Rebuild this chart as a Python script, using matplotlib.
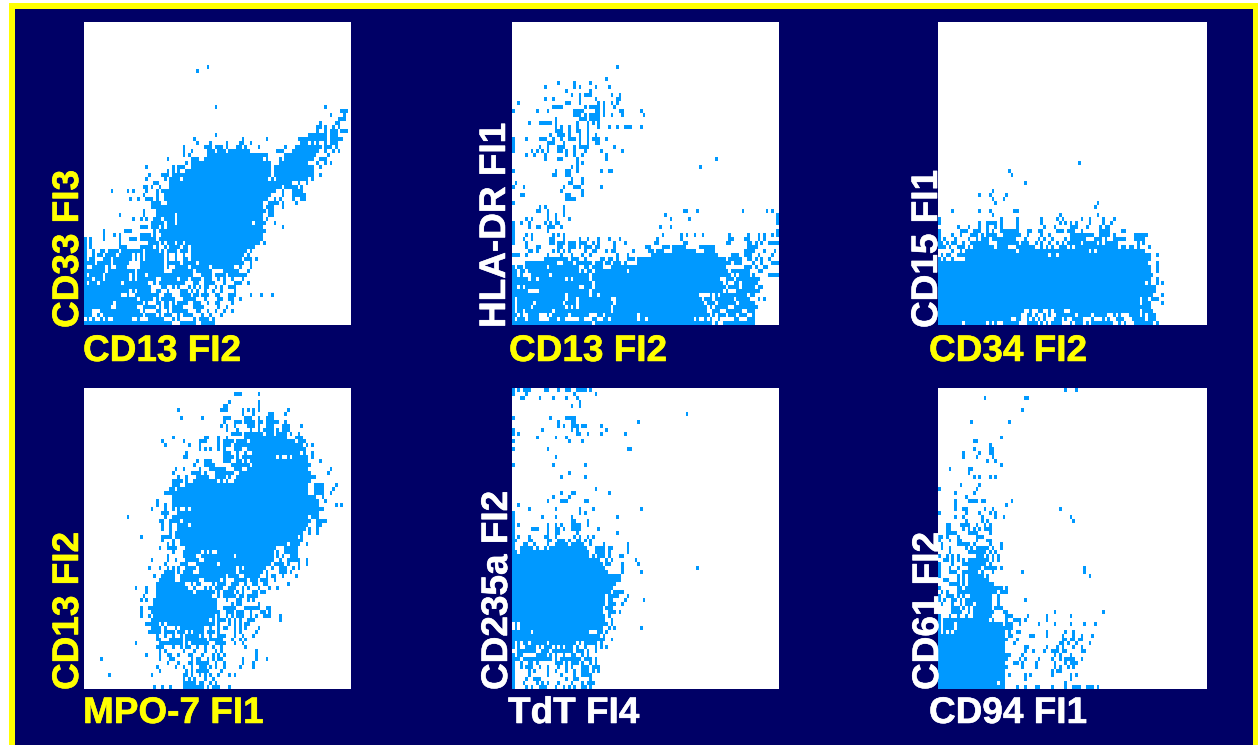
import numpy as np
import matplotlib
matplotlib.use('Agg')
import matplotlib.pyplot as plt
import matplotlib.patheffects as pe
from matplotlib.colors import ListedColormap
from matplotlib.patches import Rectangle

plt.rcParams['font.family'] = ['Liberation Sans', 'DejaVu Sans']

W, H = 1258, 745
N_COLS, N_ROWS = 100, 76

NAVY = '#000066'
YELLOW = '#FFFF00'
BLUE = '#0099FF'

# occupied channels: row -> cells (int) or runs (tuple)
p1_rows = {
    64: [46], 63: [42],
    54: [49, 90], 53: [(96, 98)], 52: [92, 97], 51: [(95, 97)],
    50: [88, (94, 95)], 49: [(87, 88), 90, 93, 95], 48: [87, 90, (92, 94), (96, 98)],
    47: [49, (84, 90), (92, 94)],
    46: [41, 59, 68, (80, 83), (84, 90), (92, 96)],
    45: [42, 47, 53, (58, 59), 62, (81, 83), 85, 87, 90, (92, 94)],
    44: [37, (45, 47), (49, 51), 53, (57, 58), 60, 65, 75, (79, 88), (90, 92), 94],
    43: [37, 40, (46, 48), (50, 52), 54, (55, 57), (58, 61), (72, 74), (78, 87), 90, 93, 95],
    42: [37, 39, (46, 64), (65, 68), (75, 86), 91],
    41: [31, (40, 42), (45, 65), 66, 68, 73, (75, 85), (88, 90)],
    40: [38, (40, 69), (73, 83), 87, 90, 92],
    39: [23, 33, (35, 37), (40, 69), (71, 85), 88],
    38: [31, 33, 35, (38, 69), (71, 74), (75, 85)],
    37: [24, (29, 31), (33, 35), (36, 69), (71, 75), (76, 85), 88],
    36: [23, 30, (32, 35), (37, 68), 70, (72, 83), 85],
    35: [(26, 27), (32, 35), (36, 70), (71, 77), 80, 83],
    34: [(22, 23), 25, 28, (32, 35), (35, 73), (75, 79), 81],
    33: [10, 16, 18, 23, 27, (29, 30), (31, 71), 74, (78, 81)],
    32: [22, 27, (30, 69), 74, (78, 82)],
    31: [17, 20, (23, 25), 27, (30, 68), 71, 73, 78, (81, 82)],
    30: [(25, 28), (31, 35), (36, 66), (69, 71), 72, 74, 79],
    29: [(25, 29), (30, 33), (34, 66), (68, 70), 74],
    28: [22, (27, 29), (30, 33), (34, 67), (69, 70)],
    27: [13, 22, (27, 29), (30, 33), (35, 66), (69, 70)],
    26: [18, 21, 23, (26, 28), (30, 33), (35, 66), 68],
    25: [(25, 28), 29, (31, 33), (35, 62), (64, 67), 71],
    24: [(21, 23), (25, 27), 29, (31, 34), (35, 66), 74],
    23: [7, (15, 17), 26, (28, 30), (31, 34), (35, 66), 67],
    22: [7, 11, 13, (21, 24), 26, (29, 66)],
    21: [0, 2, 7, 13, (17, 19), (21, 26), (28, 64), (65, 66)],
    20: [0, 2, 13, (24, 27), 29, (31, 33), (35, 36), (38, 65), 67],
    19: [0, 2, (13, 15), (21, 25), 27, 30, (32, 35), (37, 38), (40, 63)],
    18: [0, 3, (6, 7), (9, 12), (14, 21), (23, 27), 29, (31, 34), (36, 38), (40, 60), 62],
    17: [0, 3, (5, 6), (8, 11), (13, 17), 19, 21, (23, 29), 31, 34, 37, (40, 59), 61],
    16: [0, (2, 3), (7, 9), (11, 17), 19, 21, (23, 29), 31, 34, (37, 38), (40, 58), (60, 62), 64],
    15: [(0, 3), (5, 8), 9, (11, 16), (21, 29), (31, 35), (37, 41), (43, 59), 62],
    14: [0, (3, 7), 9, (12, 15), (21, 29), 31, (34, 38), (40, 46), (48, 55), 58, 62],
    13: [(0, 7), (9, 18), (20, 29), (33, 40), (42, 47), (52, 57), 61],
    12: [0, (2, 6), (8, 16), 18, (20, 22), (24, 40), (44, 47), (49, 52), (54, 58), (59, 60)],
    11: [(0, 2), (4, 6), (8, 16), 18, (20, 26), (29, 34), (36, 38), (40, 43), (45, 47), 50, 52, 55, 59],
    10: [0, (2, 4), (6, 13), (15, 23), 26, (28, 34), (35, 37), (41, 42), (45, 48), 52, (56, 58), 61],
    9: [(0, 24), (29, 30), 33, 35, 39, 41, 43, (45, 46), 49, 51, (54, 56)],
    8: [(0, 16), 18, (20, 24), (27, 28), 31, (36, 38), 40, 42, 45, 48, 51, 56],
    7: [(0, 13), 16, (19, 27), (30, 32), (36, 39), (41, 42), (44, 46), (49, 50), (54, 56), 62, 66, 70],
    6: [(0, 19), (21, 25), 27, (29, 33), (37, 41), 45, (50, 51), (54, 55), 58],
    5: [(0, 10), (12, 21), 23, (27, 28), (30, 31), 33, (35, 38), (41, 43), 46, 49, 50, 55],
    4: [(0, 9), (12, 19), (22, 26), 28, (30, 31), 33, (34, 36), (41, 44), 50, 53],
    3: [(0, 2), (6, 20), 22, (27, 28), 31, (33, 38), (42, 43), 46, 49, 52, 55],
    2: [(0, 2), 5, (7, 21), (23, 26), 28, (30, 32), 35, (37, 40), 44, 47, 51],
    1: [1, 3, 6, 8, (11, 17), 20, (24, 29), 33, 35, 41, 43, (44, 46), 48],
    0: [(0, 32), (36, 40), 41, (44, 48)],
}

p2_rows = {
    64: [39], 61: [35], 60: [17, 23, 29], 59: [12, 23, 25, 31, 36], 58: [20, 29],
    57: [22, 25, (27, 29), 37, 40], 56: [12, 15, 25, 31, (39, 40)],
    55: [2, (20, 21), 25, 32, 34, 37, 39], 54: [(15, 18), 27, (29, 31), 32, 34, 38],
    53: [0, 9, 13, (23, 26), 31, 32, 34, (40, 41), 48], 52: [(23, 25), 27, (29, 32), 34, 37, 41, 49],
    51: [16, (25, 27), (29, 32)], 50: [6, (10, 14), 16, 24, 28, 30, 32],
    49: [16, 18, 21, 24, 28, 32, 36, 39, (42, 44), 48], 48: [16, (17, 18), 21, (24, 25), 28],
    47: [14, (17, 19), 21, 25, 28, 31],
    46: [0, 5, (10, 12), 15, 18, (21, 23), 25, 28, (30, 32), 35],
    45: [0, 13, (14, 15), 19, 25, 28, (31, 32)],
    44: [0, 10, 13, (17, 19), 23, 25, (26, 28), 38],
    43: [0, 7, 9, 11, 13, (17, 18), 20, 23, 27, 33, 41],
    42: [5, 8, 12, 20, 23, 26, 35],
    41: [12, (17, 18), 24, 35, 76], 40: [24, 26],
    39: [22, 24, 70], 38: [0, 16, (20, 21), 24, 33, 36, 37],
    37: [15, 16, 20, 21], 36: [22, 26], 35: [1, (21, 22), 26],
    34: [0, 4, 19, (23, 25), 33], 33: [18, 26], 32: [(3, 4), (20, 21), 26],
    31: [(20, 22), 23], 30: [0],
    29: [10, 12, 19], 28: [(9, 10), 13, 19, 64, 65, 69, 86, 95, 97],
    27: [13, 16, 19, 57, 99], 26: [5, 7, 13, 16, 21, 59, 66, 99],
    25: [0, 3, 6, 12, 14, (16, 17), 99],
    24: [0, 6, (9, 10), 13, (14, 15), 18, 55, 59],
    23: [0, 13, 99],
    22: [0, 5, 7, 15, 17, 19, 56, 63, 65, 68, 71, 81, 88, 92, 94, 97, 99],
    21: [0, 4, 7, (14, 15), 19, 25, 28, 32, 36, 40, 54, 63, (81, 82), (87, 88), 92, 94],
    20: [0, 5, (14, 15), (17, 19), (21, 23), (25, 27), 30, 32, 38, 42, (53, 54), (64, 65), (80, 81), (88, 89), 91, 93, (96, 99)],
    19: [5, (9, 10), (17, 18), (21, 23), 25, (27, 29), (31, 32), 38, (50, 51), (56, 58), (60, 64), (70, 75), (88, 91)],
    18: [(6, 7), 9, 15, 17, 19, 21, 27, (30, 31), 35, (37, 38), 45, (51, 52), (54, 56), (60, 68), (72, 75), (87, 90), 94, 98],
    17: [(0, 2), 5, 13, 18, 22, 26, 29, 39, 43, (52, 76), (82, 84), (87, 89), 92, 97],
    16: [(12, 20), (22, 24), 27, (33, 34), (36, 37), 39, (43, 45), (47, 79), (81, 85), (88, 89), 91, 93, 96],
    15: [(5, 16), (19, 22), (24, 29), (31, 33), (35, 36), (38, 40), 42, (47, 81), (83, 85), 90, 93, (97, 99)],
    14: [0, (2, 3), (5, 12), (14, 24), (27, 28), (30, 33), (37, 79), (87, 89), 91, (94, 95)],
    13: [0, 1, 3, 4, (6, 24), 26, 28, 29, (31, 42), (44, 80), (82, 88), 92, 93],
    12: [(0, 1), 3, (7, 13), (15, 28), (30, 81), 83, (85, 88), 90, (96, 99)],
    11: [(0, 5), (7, 8), (10, 19), 21, (23, 28), (30, 77), (80, 82), (84, 92)],
    10: [(0, 29), (31, 78), 80, (83, 84), (86, 91)],
    9: [0, 1, 3, (5, 24), (27, 29), (31, 79), (81, 84), (86, 90), (92, 93)],
    8: [(0, 5), (10, 28), (30, 78), 80, (84, 92)],
    7: [(0, 19), (21, 28), 30, 31, (33, 69), 74, 76, (78, 87), (89, 90)],
    6: [0, (2, 19), (21, 23), (25, 36), (39, 70), (72, 74), (76, 82), (84, 88), 92, 94],
    5: [0, (2, 7), (9, 18), (20, 23), (25, 37), (39, 71), (73, 75), (77, 83), (85, 90)],
    4: [0, (2, 6), (8, 19), 21, 23, (25, 36), (38, 72), 74, (76, 80), (83, 91)],
    3: [0, (2, 3), (5, 14), (16, 36), (38, 72), (75, 77), (80, 85), (88, 90)],
    2: [(0, 1), 3, (6, 9), 13, (15, 20), (22, 28), 32, 33, (35, 46), (48, 72), 73, 75, (77, 79), (81, 83), (85, 87), 90],
    1: [0, (2, 4), (6, 9), (14, 16), 18, 19, (25, 26), (30, 31), (34, 35), (37, 46), (48, 49), (51, 67), 69, 72, 74, 77, (83, 84), (88, 90)],
    0: [(0, 29), (31, 74), 76, (79, 90)],
}

p3_rows = {
    40: [52], 38: [26], 37: [27], 35: [32],
    33: [20], 32: [15, 19, 25], 31: [20, 24], 30: [21, 59],
    29: [58], 28: [5, 15, 19, (28, 29)], 27: [20, 45, 59],
    26: [0, 23, 29, 38, 44, 46, 53, 56, 61, 65],
    25: [0, 15, (18, 21), 23, 29, 38, 45, 47, 49, 51, 56, 61, 64],
    24: [7, 11, 15, 18, 21, 23, 29, 39, 43, 49, (50, 51), 55, 60, (62, 63)],
    23: [0, (8, 9), 10, (13, 15), 18, 20, (23, 29), (33, 34), (37, 38), (44, 46), 48, (49, 50), 53, (60, 63), (68, 69)],
    22: [0, 5, 8, (12, 14), 16, (18, 21), (24, 30), 33, 38, 41, (49, 54), (55, 57), (60, 63), 65, (73, 77)],
    21: [0, 2, 6, 11, 14, (16, 18), (20, 28), 32, 37, 39, 42, 47, 49, (50, 54), (58, 60), 62, (65, 69), (73, 76)],
    20: [(0, 1), 3, (5, 6), 9, (12, 17), 18, (22, 29), (31, 33), 36, 38, 41, 44, 46, (48, 52), (54, 58), 60, (62, 66), 74, 76],
    19: [(0, 2), 4, (7, 9), 11, (13, 19), 20, (22, 25), (29, 35), 38, 40, 42, (45, 47), 49, (51, 66), (68, 69), (71, 72), 74, 78],
    18: [5, 8, (10, 28), (30, 55), 57, 59, (60, 76)],
    17: [1, (3, 4), (7, 9), (10, 37), (38, 40), (42, 43), (45, 78), 81],
    16: [0, 2, 5, (10, 74), (75, 78)],
    15: [(0, 77), 81],
    14: [(0, 78), 81],
    13: [(0, 78), 81],
    12: [(0, 77), (78, 79)],
    11: [(0, 78), 81],
    10: [(0, 76), 78, 81, 83],
    9: [(0, 80)], 8: [(0, 32), (33, 80)],
    7: [(0, 79), 83], 6: [(0, 74), (76, 77), (79, 81)],
    5: [(0, 74), (76, 78), 83], 4: [(0, 78)],
    3: [(0, 31), 34, (37, 38), 41, (43, 46), (49, 74), (76, 79)],
    2: [(0, 30), (33, 34), 36, 39, 41, (44, 50), (52, 56), (58, 62), 65, 67, (71, 74), 76, (78, 80)],
    1: [(0, 26), (29, 30), 33, 35, 37, 39, (43, 45), 47, (50, 53), 57, 61, 63, (66, 68), (72, 76), (78, 80)],
    0: [(0, 8), (10, 17), 19, 21, (24, 29), (33, 36), 38, 40, (42, 45), 49, (51, 53), 55, (57, 64), 67, 69, (73, 79), 81],
}

p4_rows = {
    74: [(56, 58), 65], 72: [54, 65], 71: [(52, 53), 65], 70: [35, (51, 53), 59, 61, 63, 65, 76],
    69: [59, 63, (69, 70), 75], 68: [36, 44, (52, 54), (60, 62), 65, (68, 70)],
    67: [52, (56, 58), (60, 63), (65, 66), (68, 72), 75], 66: [51, 53, 56, (61, 63), 65, (68, 70), (74, 76), 81],
    65: [53, 57, 62, 65, (67, 70), 72, (74, 76)], 64: [(55, 58), (60, 66), (68, 70), (72, 75), 77, 80],
    63: [33, (45, 46), 50, 53, (60, 70), (71, 75), (79, 81)],
    62: [29, 37, (43, 45), 50, (52, 55), (57, 60), (62, 67), (68, 78), (80, 82)],
    61: [30, 39, 43, 50, (52, 54), (56, 60), (61, 67), (68, 81), 83, 85],
    60: [43, 45, 47, 50, 52, (56, 58), (61, 70), (71, 81), 82],
    59: [38, (52, 54), 57, 60, (63, 65), (66, 70), (71, 76), 77, (78, 80), 82, 85],
    58: [(37, 38), (52, 55), 57, (59, 61), (62, 71), 73, 76, (78, 83), 85],
    57: [42, (45, 47), (52, 54), (57, 58), 60, (62, 70), (71, 83), 88],
    56: [41, (45, 48), (55, 61), (63, 70), (71, 84)],
    55: [34, 37, 43, (47, 52), (56, 58), (61, 83), 92],
    54: [33, (40, 43), 45, (49, 52), (53, 55), (58, 84), 91],
    53: [35, 38, (42, 46), (49, 52), 54, (57, 86)],
    52: [(33, 36), 38, (41, 49), 51, 53, (56, 84)],
    51: [(33, 35), 38, (39, 83), (86, 89), 94],
    50: [(32, 33), (35, 83), (86, 89), 93],
    49: [(30, 32), (33, 83), (86, 89), 92],
    48: [(33, 86), 89],
    47: [27, (33, 87), 90],
    46: [27, 30, (33, 87), 94, 96],
    45: [25, 30, 33, 35, 38, (40, 86), (87, 89)],
    44: [(29, 31), (35, 87)],
    43: [16, 30, (33, 35), (36, 83), (85, 87)],
    42: [(28, 29), (32, 35), (37, 84), (87, 89), 90],
    41: [29, 32, (35, 38), (40, 83), (87, 88)],
    40: [29, 32, (35, 39), (40, 82), 84, 87],
    39: [32, (34, 39), (40, 81), 84, 87],
    38: [21, (29, 31), 32, (34, 79), 81],
    37: [29, 33, (36, 81)],
    36: [31, 33, (36, 75), (77, 80), 83],
    35: [28, (31, 34), (38, 71), (75, 79)],
    34: [33, (37, 43), 45, 47, (50, 70), 72, (75, 79)],
    33: [31, (37, 41), (44, 55), (57, 70), 72, 74, (77, 79)],
    32: [25, 31, 34, (38, 42), (45, 70), 73, (76, 80), 83],
    31: [30, (36, 38), (42, 48), 49, (51, 69), (71, 74), 76, 80, 83],
    30: [24, 28, 31, 33, 35, (38, 41), (43, 56), 58, (60, 67), 70, (73, 75), 78, 80],
    29: [(30, 33), 35, (37, 40), (43, 56), (58, 66), 68, (73, 75), 77],
    28: [26, (29, 33), (36, 43), (44, 52), (54, 57), (60, 65), 68, (70, 71), 74, 79],
    27: [(28, 33), (36, 42), (45, 50), 52, 56, (57, 60), (62, 64), (66, 68), 71],
    26: [(27, 37), 40, (42, 43), 48, (50, 52), (55, 57), 60, (63, 64), (67, 68), 76],
    25: [19, 23, (27, 38), 41, 45, 47, (49, 51), (54, 56), 59, 61, 65, 69, 72],
    24: [23, (27, 40), (42, 48), 50, 52, (53, 55), 57, 59, (63, 64), (66, 67)],
    23: [22, (27, 47), 50, (52, 56), 58, 59, 61, (62, 64)],
    22: [21, 23, (26, 49), 53, (57, 58), 61, 63],
    21: [(26, 49), 55, (57, 58), 65],
    20: [21, (24, 49), (52, 56), 60, (61, 65), (68, 69)],
    19: [21, (25, 50), (53, 55), 57, (58, 59), 62, (66, 67), 69],
    18: [21, 24, (26, 48), 50, 53, 55, (57, 59), 62, 64, (67, 69), 73],
    17: [(25, 46), 48, (50, 52), 54, 56, 58, 61, (62, 63), 73],
    16: [(23, 27), 29, (31, 46), (47, 48), 50, 54, 56, 58, (60, 61)],
    15: [(25, 28), 30, 34, (36, 44), 47, 50, (52, 53), 56, 58, 60, 65],
    14: [(24, 28), (30, 33), (35, 37), 39, (41, 44), (46, 48), 50, 56, 58, 64],
    13: [27, 30, 33, 36, (38, 42), 44, 47, (50, 52), 56, 59, 63],
    12: [(27, 28), (32, 35), 36, (38, 45), (47, 51), 55, 58, 60],
    11: [19, (28, 34), (35, 36), 38, (40, 42), (43, 46), (49, 52), 56, 59],
    10: [(27, 28), 29, 33, 36, (38, 39), 42, 45, 48, 51, 60],
    9: [28, 30, 37, 41, 45, 49, 51, 64],
    8: [23, 28, (31, 32), 35, (39, 40), 44, 48, 50, 52, 64],
    7: [6, 28, (32, 33), 40, (42, 43), 46, 48, (50, 51), 59, 64, 68],
    6: [31, 35, (39, 40), (42, 46), 49, 52, 59, 63],
    5: [27, 34, 37, 40, (43, 45), 47, 49, 52, 58, 63],
    4: [28, 38, 40, 42, (43, 46), 51],
    3: [9, 25, (37, 38), 40, 43, 45, 47, 50, 54, 56],
    2: [37, 39, 41, 45, 48],
    1: [(37, 41), (43, 44), 47, 49],
    0: [26, 29, 32, (37, 41), (42, 44), 46, (48, 50), 54],
}

p5_rows = {
    75: [0, 2, (4, 6), (12, 13), 17, (20, 21), (24, 27), 29], 74: [0, 5, 23, 31], 73: [(3, 4), 10, 15, 20, 24],
    72: [25], 71: [22, 25], 69: [65],
    68: [0, 14, (20, 23)], 67: [17, (22, 23), 47], 66: [17, 19, (22, 24), (26, 27), 33],
    65: [0, 11, 22, 24, 35], 64: [0, 2, 24, 25, 28, 33, 42], 63: [9, 16, 20],
    62: [0, 21, 26], 60: [0, 13, (43, 44)], 58: [16], 56: [0, 15, 27], 54: [21], 53: [18, 27],
    50: [31], 49: [18, (22, 23), 36], 48: [15, 21], 47: [13, (18, 20), (27, 28)],
    46: [2], 45: [6, 16, 25, 30, 48], 44: [0, 25, 27], 43: [0, 11, 16, 22, 39],
    42: [0, (22, 23), 28], 41: [0, 2, 13, 16, 18, (22, 24), 25, 28],
    40: [0, (7, 9), 13, (16, 17), 19, (22, 24), 25, 32],
    39: [0, 13, (16, 17), 24, 39], 38: [0, 2, 6, (12, 13), 16, 23, 25, 28, 30],
    37: [0, 1, (6, 7), (13, 14), (17, 19), 21, (24, 25), 27, 29],
    36: [0, (4, 5), 8, 13, (16, 20), (22, 26), 29, 34, 43],
    35: [0, 3, (4, 7), 9, 12, (14, 27), 31, (32, 34), (36, 37), 43],
    34: [(0, 1), (3, 12), (13, 28), (31, 34), 36, 43],
    33: [(0, 28), 30, (32, 34), 36, 40, 41],
    32: [(0, 32), 35, 37, 46],
    31: [(0, 33), (35, 36), 41, 47],
    30: [(0, 34), 41, 69],
    29: [(0, 35), 41, 48],
    28: [(0, 36), (37, 40)],
    27: [(0, 40)], 26: [(0, 38)], 25: [(0, 37)], 24: [(0, 36), (38, 41)],
    23: [(0, 34), (36, 37), (38, 39), 43], 22: [(0, 34), (36, 37), 42, 49],
    21: [(0, 33), 34, (36, 38), 41], 20: [(0, 33), (35, 37)],
    19: [(0, 32), 33, 36, (37, 38), 40], 18: [(0, 34), 36],
    17: [(0, 34), 37], 16: [1, (3, 34), 35, 37], 15: [1, (3, 33), 36, 38, 48],
    14: [(0, 5), 6, (8, 28), (32, 33), 35],
    13: [(0, 32), 34], 12: [(0, 34), 37],
    11: [0, 2, (4, 5), (7, 12), (14, 23), 25, (27, 31), 33],
    10: [0, 2, (5, 8), 10, (12, 14), 16, 18, (20, 22), 24, 27, 31, 33, 35],
    9: [(2, 8), (11, 13), (15, 22), (24, 26), 28, 31],
    8: [0, (2, 3), (9, 12), 14, 16, 19, (22, 23), 26, 28],
    7: [(0, 1), 2, (4, 14), 16, (18, 24), 25, (27, 29), 31],
    6: [0, 3, 6, 7, 9, (16, 18), 20, (22, 24), 26, 29, 31],
    5: [0, 3, (5, 7), 10, 13, 17, 20, 22, (26, 28), (30, 32)],
    4: [0, 6, 8, 13, 16, 20, 23, (26, 28), 30, 32],
    3: [0, 6, 13, 18, 23, (26, 29)],
    2: [0, 5, (8, 10), 20, (23, 24), 29],
    1: [0, 4, 9, 11, 13, 17, 22, 26, (28, 30)],
    0: [0, 5, 7, (10, 12), 16, 19, 21, 23, (26, 27), 29],
}

p6_rows = {
    75: [47, 51], 73: [17, (32, 33)], 70: [31], 67: [12, 26],
    63: [23], 62: [(13, 14)], 61: [19], 60: [13, 19, 20], 59: [9, 15, 19, 20],
    58: [9, 14, 20], 57: [18, 21], 56: [23], 55: [4, (11, 12)], 54: [11], 53: [13, 15, 19, 21],
    51: [8, 15], 50: [0, 14], 49: [6, 13], 48: [10], 47: [6, (11, 14), (16, 17), 27],
    46: [6, 25], 45: [6, 9, 10, 17, 20, 45], 44: [0, 10, 15, 19, 21], 43: [6, 9, 16, 21, 24, 49],
    42: [10, 16, 18, 50],
    41: [3, 4, 8, (9, 11), 14, 17, 19], 40: [(3, 4), 9, 11, 13, 15, (17, 19)],
    39: [(3, 5), 6, (11, 13), 14, 19],
    38: [0, 1, 3, 7, (14, 16)], 37: [0, 4, 7, 8, 14, (18, 19)],
    36: [1, (7, 11), 13, 19, 23], 35: [1, 4, 10, 12, (14, 18), 20, 23],
    34: [4, (11, 13), (14, 17), 19, 21], 33: [0, 3, 5, 7, (14, 16), 18, 20, 22],
    32: [(2, 3), 5, 7, 9, (11, 16), (17, 18), 20, 22], 31: [0, 5, 9, (10, 16), 17, 19],
    30: [0, 4, 7, (11, 15), (17, 21), 23, 54], 29: [0, (4, 6), 9, (10, 14), 16, 20, 31, 54],
    28: [0, 7, 9, 11, (12, 16), 18, 56], 27: [(2, 3), 7, 9, (11, 18)],
    26: [(4, 6), 7, 9, (11, 20)], 25: [0, 7, 8, (10, 23), 25],
    24: [1, 3, (7, 21), 23, (24, 25)], 23: [0, (3, 5), 7, 9, (12, 19), 22],
    22: [0, 2, (5, 6), 8, (10, 12), (13, 19), 22, 32],
    21: [1, 5, 8, (10, 12), 14, (15, 19), 22], 20: [(5, 6), 7, 9, 11, (13, 19), 21, (22, 23)],
    19: [(5, 7), 8, 11, (13, 20), (24, 25), 43, 61], 18: [0, 4, 7, 10, (13, 18), 19, (25, 27), 33, 40, 49],
    17: [0, (2, 7), (8, 18), 20, 25, (28, 30), 32, 40],
    16: [0, (2, 5), (7, 23), (25, 27), 30, 37, 43, 49, 54, 58], 15: [0, (2, 5), (7, 23), 24, (25, 26), 27],
    14: [0, 2, 4, (6, 24), 26, (29, 30), 40, 47, 50],
    13: [(0, 24), (26, 27), (34, 35), 40, 46, 50, 53, 57],
    12: [(0, 24), 25, 29, 46, 47, (49, 50), (52, 53)],
    11: [(0, 24), 28, (45, 46), 48, 51, 56],
    10: [(0, 24), (32, 33), 40, 44, 46, 50, 53],
    9: [(0, 24), 32, 35, 39, (42, 44), (46, 47), 53, 54],
    8: [(0, 24), (25, 26), 31, 43, 45, 49],
    7: [(0, 25), 30, 32, 37, 42, 45, 47, 48, (49, 50), 53],
    6: [(0, 24), (28, 29), 31, 36, 43, 47, 49, (50, 51)],
    5: [(0, 23), (24, 25), 31, 36, 43, 45, 48, 50],
    4: [(0, 24), 42, (44, 45)], 3: [(0, 24), 26, 32, 34, 42, 49, 51],
    2: [(0, 24), 32, 49],
    1: [(0, 21), 23, 24, 47],
    0: [(0, 24), 29, 32, (36, 37), 42, 47, (50, 52), (55, 57), 59],
}

x_labels = ['CD13 FI2', 'CD13 FI2', 'CD34 FI2', 'MPO-7 FI1', 'TdT FI4', 'CD94 FI1']
y_labels = ['CD33 FI3', 'HLA-DR FI1', 'CD15 FI1', 'CD13 FI2', 'CD235a FI2', 'CD61 FI2']
x_label_colors = [YELLOW, YELLOW, YELLOW, YELLOW, 'white', 'white']
y_label_colors = [YELLOW, 'white', 'white', YELLOW, 'white', 'white']

# left, right, top, bottom in pixels
panel_boxes = [(84, 351, 22, 325), (512, 779, 22, 325), (938, 1207, 22, 325),
               (84, 351, 388, 689), (512, 779, 388, 689), (938, 1207, 388, 689)]
x_label_pos = [(83, 361), (509, 361), (929, 361), (83, 723), (508, 723), (929, 723)]
y_label_pos = [(78, 328), (505, 328), (937, 328), (78, 690), (507, 690), (938, 690)]
all_rows = [p1_rows, p2_rows, p3_rows, p4_rows, p5_rows, p6_rows]


def rows_to_grid(rows):
    grid = np.zeros((N_ROWS, N_COLS))
    for row, cells in rows.items():
        for cell in cells:
            if isinstance(cell, tuple):
                grid[row, cell[0]:cell[1] + 1] = 1
            else:
                grid[row, cell] = 1
    return grid


fig = plt.figure(figsize=(W / 100, H / 100), dpi=100, facecolor='white')

# page frame, kept behind the panels
fig.add_artist(Rectangle((9 / W, 0), (W - 9) / W, (H - 3) / H, transform=fig.transFigure,
                         facecolor=YELLOW, edgecolor='none', zorder=-2))
fig.add_artist(Rectangle((15 / W, 0), (1253 - 15) / W, (H - 9) / H, transform=fig.transFigure,
                         facecolor=NAVY, edgecolor='none', zorder=-1))

cmap = ListedColormap(['white', BLUE])
for i, rows in enumerate(all_rows):
    left, right, top, bottom = panel_boxes[i]
    ax = fig.add_axes([left / W, 1 - bottom / H, (right - left) / W, (bottom - top) / H])
    ax.imshow(rows_to_grid(rows), origin='lower', cmap=cmap, vmin=0, vmax=1,
              extent=(0, N_COLS, 0, N_ROWS), aspect='auto', interpolation='nearest')
    ax.set_axis_off()

    px, py = x_label_pos[i]
    color = x_label_colors[i]
    fig.text(px / W, 1 - py / H, x_labels[i], color=color, fontsize=26.6, fontweight='bold',
             ha='left', va='baseline',
             path_effects=[pe.withStroke(linewidth=0.4, foreground=color)])
    px, py = y_label_pos[i]
    color = y_label_colors[i]
    fig.text(px / W, 1 - py / H, y_labels[i], color=color, fontsize=26.6, fontweight='bold',
             rotation=90, rotation_mode='anchor', ha='left', va='baseline',
             path_effects=[pe.withStroke(linewidth=0.4, foreground=color)])

fig.savefig('out.png', dpi=100)
